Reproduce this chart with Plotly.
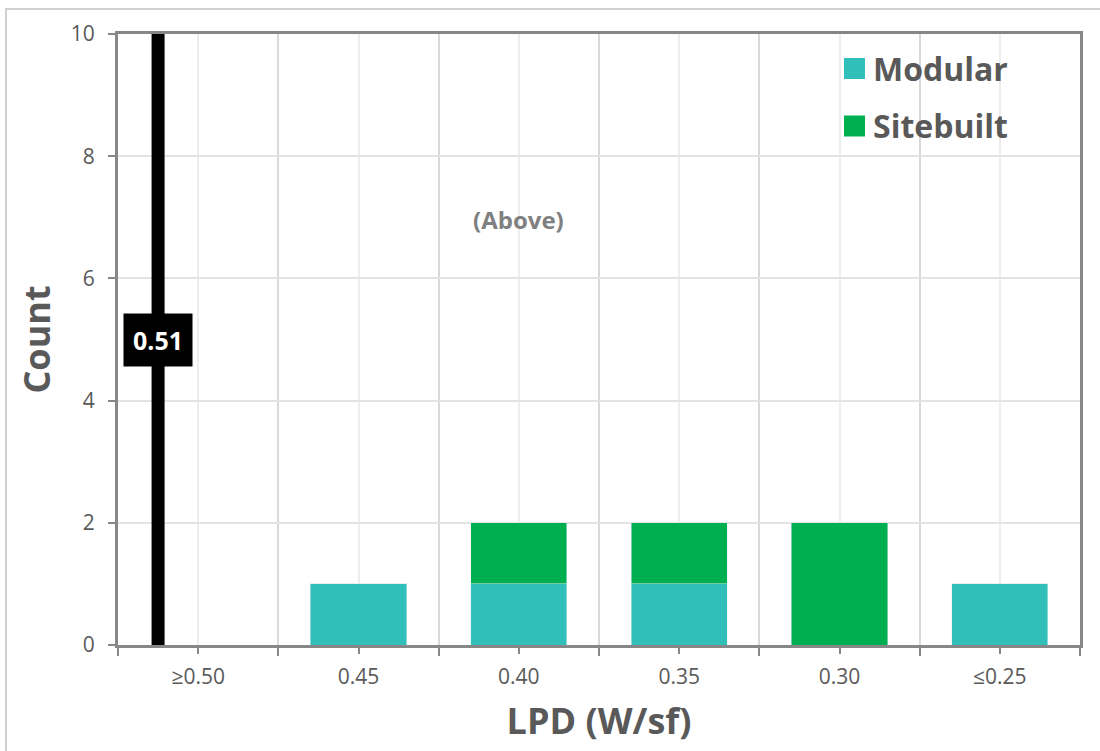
import plotly.graph_objects as go

# LPD bins (W/sf), from high to low
categories = ["≥0.50", "0.45", "0.40", "0.35", "0.30", "≤0.25"]
modular = [0, 1, 1, 1, 0, 1]
sitebuilt = [0, 0, 1, 1, 2, 0]

# reference LPD marker
ref_lpd = 0.51
ref_label = "0.51"

TEAL = "#31C0B9"
GREEN = "#00B050"
TXT = "#595959"
AXIS = "#878787"
FONT = "Open Sans"

# plot-area geometry in pixels
W, H = 1100, 751
L, R, T, B = 118, 20, 34, 106
PW, PH = W - L - R, H - T - B


def px_x(x):
    return (x - L) / PW


def px_y(y):
    return (H - B - y) / PH


pos = list(range(len(categories)))

fig = go.Figure()
fig.add_trace(go.Bar(x=pos, y=modular, name="Modular", marker_color=TEAL,
                     width=0.6, showlegend=False))
fig.add_trace(go.Bar(x=pos, y=sitebuilt, name="Sitebuilt", marker_color=GREEN,
                     width=0.6, showlegend=False))

# vertical marker on a numeric LPD axis
fig.add_trace(go.Scatter(x=[ref_lpd, ref_lpd], y=[0, 10], mode="lines",
                         line=dict(color="black", width=13), xaxis="x2",
                         showlegend=False, hoverinfo="skip"))

fig.update_layout(
    width=W, height=H,
    margin=dict(l=L, r=R, t=T, b=B),
    paper_bgcolor="white", plot_bgcolor="white",
    barmode="stack",
    font=dict(family=FONT, color=TXT, size=20),
    xaxis=dict(
        range=[-0.5, 5.5], tickmode="array", tickvals=pos, ticktext=categories,
        showgrid=True, gridcolor="#EDEDED", gridwidth=2,
        ticks="outside", ticklen=6, tickwidth=2, tickcolor=AXIS,
        ticklabelstandoff=5,
        minor=dict(tickmode="linear", tick0=-0.5, dtick=1, showgrid=True,
                   gridcolor="#D9D9D9", gridwidth=2, ticks="outside",
                   ticklen=8, tickwidth=2, tickcolor=AXIS),
        showline=True, linecolor=AXIS, linewidth=3, mirror=True,
        tickfont=dict(size=21, color=TXT),
        title=dict(text="<b>LPD (W/sf)</b>", font=dict(size=36, color=TXT), standoff=20),
        zeroline=False,
    ),
    xaxis2=dict(range=[0.5225, 0.2225], overlaying="x", visible=False),
    yaxis=dict(
        range=[0, 10], dtick=2, showgrid=True, gridcolor="#E3E3E3", gridwidth=2,
        ticks="outside", ticklen=7, tickwidth=2, tickcolor=AXIS,
        ticklabelstandoff=9,
        showline=True, linecolor=AXIS, linewidth=3, mirror=True,
        tickfont=dict(size=21, color=TXT), zeroline=False,
        title=dict(text="<b>Count</b>", font=dict(size=36, color=TXT), standoff=10),
    ),
)

# marker value label
fig.add_annotation(x=ref_lpd, y=5, xref="x2", yref="y", text=f"<b>{ref_label}</b>",
                   showarrow=False, bgcolor="black", borderpad=9,
                   font=dict(size=25, color="white", family=FONT))

# region note
fig.add_annotation(x=2, y=7, xref="x", yref="y", text="<b>(Above)</b>",
                   showarrow=False, yshift=-2,
                   font=dict(size=24, color="#808080", family=FONT))

# legend drawn as swatches + labels
for label, color, yc in [("Modular", TEAL, 68.5), ("Sitebuilt", GREEN, 126)]:
    fig.add_shape(type="rect", xref="paper", yref="paper",
                  x0=px_x(844), x1=px_x(865), y0=px_y(yc - 10.5), y1=px_y(yc + 10.5),
                  fillcolor=color, line=dict(width=0))
    fig.add_annotation(x=px_x(871), y=px_y(yc), xref="paper", yref="paper",
                       text=f"<b>{label}</b>", showarrow=False, xanchor="left",
                       yanchor="middle", font=dict(size=32, color=TXT, family=FONT))

# outer chart border
fig.add_shape(type="rect", xref="paper", yref="paper", layer="below",
              x0=px_x(6), x1=px_x(1110), y0=px_y(760), y1=px_y(9),
              line=dict(color="#D0D0D0", width=2), fillcolor="rgba(0,0,0,0)")

fig.write_html("out.html")
